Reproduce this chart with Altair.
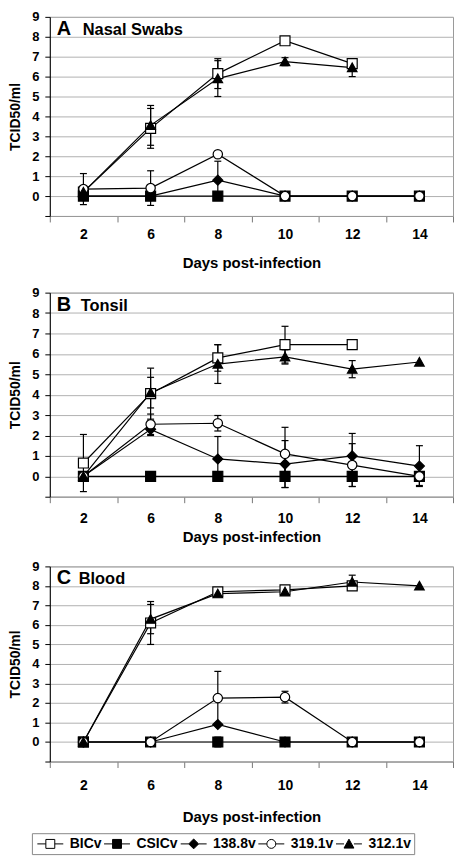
import altair as alt
import pandas as pd

DAYS = ["2", "6", "8", "10", "12", "14"]
SERIES = ["BICv", "CSICv", "138.8v", "319.1v", "312.1v"]

# ---- Panel A: Nasal Swabs (mean, error) ----
A_MEAN = {
    "BICv":   [0.2, 3.4, 6.15, 7.8, 6.65, None],
    "CSICv":  [0.0, 0.0, 0.0, 0.0, 0.0, 0.0],
    "138.8v": [0.0, 0.0, 0.8, 0.0, 0.0, 0.0],
    "319.1v": [0.35, 0.4, 2.1, 0.0, 0.0, 0.0],
    "312.1v": [0.2, 3.55, 5.9, 6.75, 6.45, None],
}
A_ERR = {
    "BICv":   [0, 1.0, 0.75, 0, 0.2, None],
    "CSICv":  [0, 0, 0, 0, 0, 0],
    "138.8v": [0, 0, 0.95, 0, 0, 0],
    "319.1v": [0.78, 0.87, 0, 0, 0, 0],
    "312.1v": [0, 1.0, 0.9, 0.2, 0.45, None],
}

# ---- Panel B: Tonsil ----
B_MEAN = {
    "BICv":   [0.65, 4.05, 5.8, 6.45, 6.45, None],
    "CSICv":  [0.0, 0.0, 0.0, 0.0, 0.0, 0.0],
    "138.8v": [0.0, 2.3, 0.85, 0.6, 1.0, 0.5],
    "319.1v": [0.0, 2.55, 2.6, 1.1, 0.55, 0.0],
    "312.1v": [0.0, 4.1, 5.5, 5.85, 5.25, 5.6],
}
B_ERR = {
    "BICv":   [1.4, 1.25, 0.65, 0.9, 0, None],
    "CSICv":  [0, 0, 0.22, 0.55, 0.5, 0.45],
    "138.8v": [0, 0.3, 1.1, 1.15, 1.1, 1.0],
    "319.1v": [0, 0.5, 0.38, 1.3, 1.05, 0],
    "312.1v": [0, 0.75, 0.95, 0.35, 0.42, 0],
}

# ---- Panel C: Blood ----
C_MEAN = {
    "BICv":   [0.0, 6.1, 7.7, 7.8, 8.0, None],
    "CSICv":  [0.0, 0.0, 0.0, 0.0, 0.0, 0.0],
    "138.8v": [0.0, 0.0, 0.9, 0.0, 0.0, 0.0],
    "319.1v": [0.0, 0.0, 2.25, 2.3, 0.0, 0.0],
    "312.1v": [0.0, 6.3, 7.6, 7.7, 8.2, 8.0],
}
C_ERR = {
    "BICv":   [0, 1.1, 0.15, 0.1, 0, None],
    "CSICv":  [0, 0, 0.25, 0, 0, 0],
    "138.8v": [0, 0, 0, 0, 0, 0],
    "319.1v": [0, 0, 1.37, 0.3, 0, 0],
    "312.1v": [0, 0.75, 0.1, 0.1, 0.35, 0],
}

# marker styles (shape, size, fill)
MARKERS = {
    "BICv":   ("square", 100, "white"),
    "CSICv":  ("square", 100, "black"),
    "138.8v": ("diamond", 100, "black"),
    "319.1v": ("circle", 88, "white"),
    "312.1v": ("M0,-0.95L1,0.85L-1,0.85Z", 92, "black"),
}
LEGEND_PATHS = [
    "M-1.86,0H-0.64M0.64,0H1.86M-0.64,-0.64H0.64V0.64H-0.64Z",
    "M-1.86,0H-0.64M0.64,0H1.86M-0.64,-0.64H0.64V0.64H-0.64Z",
    "M-1.86,0H-0.71M0.71,0H1.86M-0.71,0L0,-0.71L0.71,0L0,0.71Z",
    "M-1.86,0H-0.64M0.64,0H1.86M-0.64,0A0.64,0.64,0,1,1,0.64,0A0.64,0.64,0,1,1,-0.64,0Z",
    "M-1.86,0H-0.71M0.71,0H1.86M0,-0.68L0.71,0.6L-0.71,0.6Z",
]
LEGEND_FILLS = ["white", "black", "black", "white", "black"]
LEGEND_STROKES = ["black"] * 5

FONT = "Liberation Sans"
W = 405
LW = 1.2


def long_df(means, errs):
    rows = []
    for si, s in enumerate(SERIES):
        for di, d in enumerate(DAYS):
            m = means[s][di]
            if m is None:
                continue
            e = errs[s][di] or 0
            rows.append(dict(series=s, sidx=si, day=d, di=di, val=m,
                             lo=m - e, hi=m + e, err=e))
    return pd.DataFrame(rows)


def panel(means, errs, letter, name, name_x, height, lab_pad, title_pad,
          with_legend=False):
    df = long_df(means, errs)
    base = alt.Chart(df)
    xaxis = alt.Axis(title="Days post-infection", tickBand="extent",
                     labelPadding=lab_pad, titlePadding=title_pad, grid=False,
                     labelAngle=0)
    x = alt.X("day:N", scale=alt.Scale(type="band", domain=DAYS,
                                      paddingInner=0, paddingOuter=0),
              bandPosition=0.5, axis=xaxis)
    yscale = alt.Scale(domain=[-1, 9], nice=False, zero=False)
    yaxis = alt.Axis(title="TCID50/ml", values=list(range(-1, 10)),
                     labelExpr="datum.value < 0 ? '' : datum.label",
                     grid=True, titlePadding=9)

    def y(field):
        return alt.Y(f"{field}:Q", scale=yscale, axis=yaxis)

    lines = base.mark_line(color="black", strokeWidth=LW).encode(
        x=x, y=y("val"), detail="series:N", order="di:Q")
    ebase = base.transform_filter("datum.err > 0")
    rules = ebase.mark_rule(color="black", strokeWidth=LW).encode(
        x=x, y=y("lo"), y2="hi:Q")
    caps_hi = ebase.mark_point(shape="M-1,0H1", size=49, color="black",
                               strokeWidth=LW, opacity=1).encode(x=x, y=y("hi"))
    caps_lo = ebase.mark_point(shape="M-1,0H1", size=49, color="black",
                               strokeWidth=LW, opacity=1).encode(x=x, y=y("lo"))
    layers = [lines, rules, caps_hi, caps_lo]
    for s in SERIES:
        shp, sz, fill = MARKERS[s]
        layers.append(
            base.transform_filter(alt.datum.series == s)
            .mark_point(shape=shp, size=sz, filled=True, fill=fill,
                        stroke="black", strokeWidth=LW, opacity=1)
            .encode(x=x, y=y("val"))
        )
    lab = alt.Chart(pd.DataFrame({"t": [letter]})).mark_text(
        align="left", baseline="alphabetic", font=FONT, fontSize=20,
        fontWeight="bold", color="black").encode(
        text="t:N", x=alt.value(7), y=alt.value(18))
    nm = alt.Chart(pd.DataFrame({"t": [name]})).mark_text(
        align="left", baseline="alphabetic", font=FONT, fontSize=16.5,
        fontWeight="bold", color="black").encode(
        text="t:N", x=alt.value(name_x), y=alt.value(18))
    layers += [lab, nm]
    if with_legend:
        leg = alt.Legend(
            title=None, orient="none", legendX=-18, legendY=height + 72,
            direction="horizontal", symbolSize=196,
            symbolOffset=8, labelOffset=12, columnPadding=0,
            padding=3, strokeColor="#888888",
            labelFont=FONT, labelFontSize=14,
            labelFontWeight="bold", labelColor="black",
            symbolStrokeColor="black", symbolStrokeWidth=1,
            symbolOpacity=1)
        lg = alt.Chart(pd.DataFrame({"series": SERIES})).transform_filter(
            "false").mark_point(filled=True, strokeWidth=1,
                                size=196, opacity=1).encode(
            shape=alt.Shape("series:N", scale=alt.Scale(domain=SERIES,
                                                        range=LEGEND_PATHS),
                            legend=leg),
            fill=alt.Fill("series:N", scale=alt.Scale(domain=SERIES,
                                                      range=LEGEND_FILLS),
                          legend=leg),
            stroke=alt.Stroke("series:N", scale=alt.Scale(domain=SERIES,
                                                          range=LEGEND_STROKES),
                              legend=leg))
        layers.append(lg)
    return alt.layer(*layers).properties(width=W, height=height)


pA = panel(A_MEAN, A_ERR, "A", "Nasal Swabs", 33, 200, 6, 14)
pB = panel(B_MEAN, B_ERR, "B", "Tonsil", 31, 205, 9, 4)
pC = panel(C_MEAN, C_ERR, "C", "Blood", 29, 196, 11, 17, with_legend=True)

chart = (
    alt.vconcat(pA, pB, pC, spacing=14)
    .resolve_legend(shape="independent", fill="independent",
                    stroke="independent")
    .resolve_scale(shape="independent", fill="independent",
                   stroke="independent")
    .properties(padding=0)
    .configure(font=FONT)
    .configure_view(stroke="#999999", strokeWidth=1)
    .configure_axis(labelFont=FONT, titleFont=FONT, labelFontWeight="bold",
                    titleFontWeight="bold", labelColor="black",
                    titleColor="black")
    .configure_axisX(labelFontSize=14, titleFontSize=15, tickSize=6,
                     tickColor="#777777", domainColor="#999999")
    .configure_axisY(labelFontSize=13, titleFontSize=14, tickSize=5,
                     tickColor="black", domainColor="black",
                     gridColor="#b0b0b0", labelPadding=6)
)

chart.save("out.html", embed_options={"renderer": "svg", "actions": False})
